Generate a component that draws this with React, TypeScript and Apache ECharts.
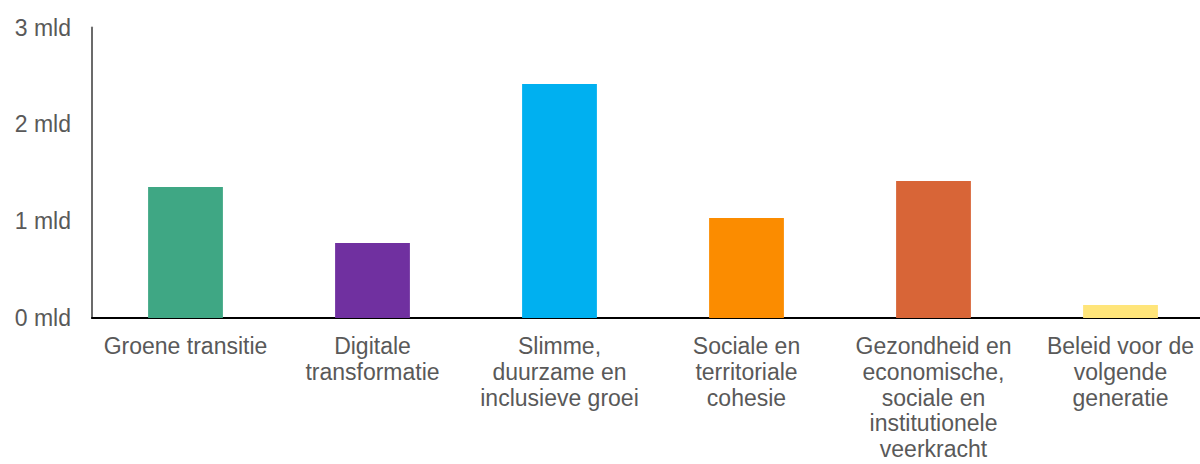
import React, { useEffect, useRef } from "react";
import * as echarts from "echarts";

const categories = [
  "Groene transitie",
  "Digitale\ntransformatie",
  "Slimme,\nduurzame en\ninclusieve groei",
  "Sociale en\nterritoriale\ncohesie",
  "Gezondheid en\neconomische,\nsociale en\ninstitutionele\nveerkracht",
  "Beleid voor de\nvolgende\ngeneratie",
];
const values = [1.353, 0.775, 2.417, 1.033, 1.415, 0.134];
const colors = ["#3FA784", "#7030A0", "#00B0F0", "#FB8C00", "#D86537", "#FFE57A"];
const yTicks = [0, 1, 2, 3];

export default function App() {
  const ref = useRef<HTMLDivElement>(null);
  useEffect(() => {
    if (!ref.current) return;
    const chart = echarts.init(ref.current, undefined, { renderer: "svg" });
    const font = "'Liberation Sans', Arial, sans-serif";
    chart.setOption({
      animation: false,
      grid: {
        left: 92,
        right: -14,
        top: 27.5,
        bottom: 146,
        containLabel: false,
        outerBoundsMode: "none",
      },
      xAxis: {
        type: "category",
        data: categories,
        axisLine: { show: true, lineStyle: { color: "#000", width: 2 } },
        axisTick: { show: false },
        axisLabel: {
          interval: 0,
          color: "#595959",
          fontSize: 23,
          lineHeight: 25.8,
          fontFamily: font,
          margin: 15,
          align: "center",
          hideOverlap: false,
        },
      },
      yAxis: {
        type: "value",
        min: 0,
        max: 3,
        interval: 1,
        splitLine: { show: false },
        axisLine: { show: true, lineStyle: { color: "#6b6b6b", width: 2 } },
        axisTick: { show: false },
        axisLabel: {
          color: "#595959",
          fontSize: 23,
          fontFamily: font,
          margin: 21,
          formatter: (v: number) => (yTicks.includes(v) ? `${v} mld` : ""),
        },
      },
      series: [
        {
          type: "bar",
          barWidth: "40%",
          data: values.map((v, i) => ({ value: v, itemStyle: { color: colors[i] } })),
        },
      ],
    });
    return () => chart.dispose();
  }, []);
  return (
    <div
      ref={ref}
      style={{ position: "fixed", left: 0, top: 0, width: 1200, height: 464, background: "#fff" }}
    />
  );
}
